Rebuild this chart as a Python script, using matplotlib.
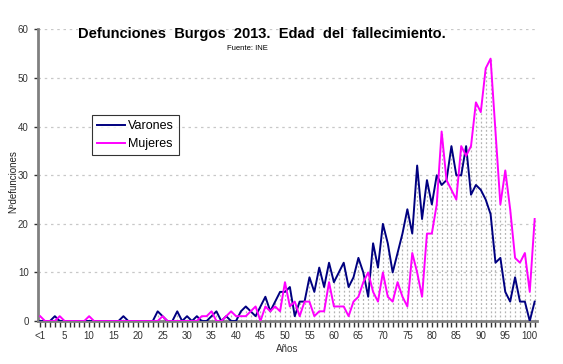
import matplotlib
matplotlib.use("Agg")
import matplotlib.pyplot as plt
import numpy as np

ages = list(range(0, 102))
tick_pos = list(range(0, 101, 5))
tick_labels = ["<1"] + [str(v) for v in range(5, 101, 5)]

varones = [0, 0, 0, 1, 0, 0, 0, 0, 0, 0,
           0, 0, 0, 0, 0, 0, 0, 1, 0, 0,
           0, 0, 0, 0, 2, 1, 0, 0, 2, 0,
           1, 0, 1, 0, 0, 1, 2, 0, 1, 0,
           0, 2, 3, 2, 1, 3, 5, 2, 4, 6,
           6, 7, 1, 4, 4, 9, 6, 11, 7, 12,
           8, 10, 12, 7, 9, 13, 10, 5, 16, 11,
           20, 16, 10, 14, 18, 23, 18, 32, 21, 29,
           24, 30, 28, 29, 36, 30, 30, 36, 26, 28,
           27, 25, 22, 12, 13, 6, 4, 9, 4, 4,
           0, 4]
mujeres = [1, 0, 0, 0, 1, 0, 0, 0, 0, 0,
           1, 0, 0, 0, 0, 0, 0, 0, 0, 0,
           0, 0, 0, 0, 0, 1, 0, 0, 0, 0,
           0, 0, 0, 1, 1, 2, 0, 0, 1, 2,
           1, 1, 1, 2, 3, 0, 3, 2, 3, 2,
           8, 3, 4, 1, 4, 4, 1, 2, 2, 8,
           3, 3, 3, 1, 4, 5, 8, 10, 6, 4,
           10, 5, 4, 8, 5, 3, 14, 10, 5, 18,
           18, 24, 39, 29, 27, 25, 36, 34, 36, 45,
           43, 52, 54, 39, 24, 31, 23, 13, 12, 14,
           6, 21]

fig = plt.figure(figsize=(5.63, 3.64), dpi=100)
ax = fig.add_axes([0.067, 0.118, 0.887, 0.801])
ax.set_xlim(-0.5, 101.5)
ax.set_ylim(0, 60)

for y in range(10, 61, 10):
    ax.axhline(y, color="#c8c8c8", lw=0.9, ls=(0, (2, 3)), zorder=0)

tops = np.maximum(varones, mujeres)
ax.vlines(ages, 0, tops, colors="#b4b4b4", lw=0.9, linestyles=(0, (1.5, 1.8)), zorder=1)

ax.plot(ages, varones, color="#000080", lw=1.4, label="Varones", zorder=3)
ax.plot(ages, mujeres, color="#ff00ff", lw=1.4, label="Mujeres", zorder=3)

for s in ["top", "right"]:
    ax.spines[s].set_visible(False)
ax.spines["left"].set_color("#808080")
ax.spines["left"].set_linewidth(2)
ax.spines["bottom"].set_color("#808080")
ax.spines["bottom"].set_linewidth(2)

ax.set_xticks(tick_pos)
ax.set_xticklabels(tick_labels, fontsize=7, color="#333333", family="Liberation Sans")
ax.set_xticks(ages, minor=True)
ax.tick_params(axis="x", which="both", length=4, width=1, color="#333333", direction="out")
ax.set_yticks(range(0, 61, 10))
ax.set_yticklabels([str(v) for v in range(0, 61, 10)], fontsize=7, color="#333333", family="Liberation Sans")
ax.tick_params(axis="y", length=3, width=1, color="#333333")

ax.set_xlabel("Años", fontsize=7, color="#333333", family="Liberation Sans", labelpad=2)
ax.set_ylabel("Nºdefunciones", fontsize=7, color="#222222", family="Liberation Sans")
ax.yaxis.set_label_coords(-0.038, 0.48)

fig.text(0.465, 0.907, "Defunciones  Burgos  2013.  Edad  del  fallecimiento.", fontsize=10.5,
         fontweight="bold", family="Liberation Sans", ha="center", va="center")
fig.text(0.44, 0.868, "Fuente: INE", fontsize=5.5, family="Liberation Sans", ha="center", va="center")

leg = ax.legend(loc="upper left", bbox_to_anchor=(0.164, 0.684), bbox_transform=fig.transFigure,
                frameon=True, fancybox=False, edgecolor="black",
                handlelength=2.2, borderpad=0.4, labelspacing=0.5, handletextpad=0.25,
                borderaxespad=0,
                prop={"family": "Liberation Sans", "size": 9})
leg.get_frame().set_linewidth(0.8)

fig.savefig("out.png", dpi=100)
